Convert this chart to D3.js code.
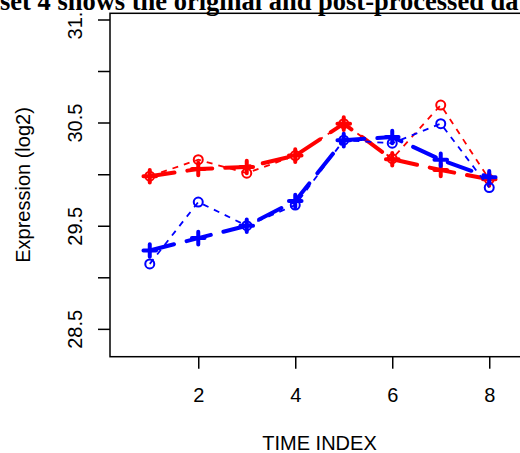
<!DOCTYPE html>
<html>
<head>
<meta charset="utf-8">
<script src="https://cdn.jsdelivr.net/npm/d3@7"></script>
<style>
  html, body { margin: 0; padding: 0; background: #fff; }
  svg { display: block; }
</style>
</head>
<body>
<svg id="chart" width="520" height="453"></svg>
<script>
// ---- data ----
const timeIndex = [1, 2, 3, 4, 5, 6, 7, 8];
const redOriginal  = [29.98, 30.14, 30.01, 30.18, 30.49, 30.15, 30.67, 29.95];
const redProcessed = [29.98, 30.05, 30.07, 30.18, 30.49, 30.145, 30.04, 29.95];
const blueOriginal  = [29.13, 29.73, 29.50, 29.70, 30.33, 30.30, 30.49, 29.87];
const blueProcessed = [29.26, 29.38, 29.50, 29.74, 30.33, 30.36, 30.14, 29.97];
const xTicks = [2, 4, 6, 8];
const yTicks = [28.5, 29, 29.5, 30, 30.5, 31, 31.5];
const yTickLabels = ["28.5", "", "29.5", "", "30.5", "", "31.5"];
const titleText = "Dataset 4 shows the original and post-processed data";
const xTitle = "TIME INDEX";
const yTitle = "Expression (log2)";

// ---- layout ----
const plot = { left: 110, right: 529, top: 13.3, bottom: 356.7 };
const xlim = [0.5, 8.5];
const xpad = 0.04 * (xlim[1] - xlim[0]);
const x = d3.scaleLinear().domain([xlim[0] - xpad, xlim[1] + xpad]).range([plot.left, plot.right]);
const y = d3.scaleLinear().domain([28.23, 31.56]).range([plot.bottom, plot.top]);

const svg = d3.select("#chart");
const axisFont = "'Liberation Sans', Arial, Helvetica, sans-serif";

// clip for the top of the y tick labels
svg.append("defs").append("clipPath").attr("id", "ylabClip")
  .append("rect").attr("x", 0).attr("y", 12.5).attr("width", 110).attr("height", 453);

// ---- series ----
const series = [
  { orig: redOriginal, proc: redProcessed, color: "#ff0000" },
  { orig: blueOriginal, proc: blueProcessed, color: "#0000ff" }
];

const line = d3.line().x(d => x(d[0])).y(d => y(d[1]));
const gData = svg.append("g");

series.forEach(s => {
  const origPts = timeIndex.map((t, i) => [t, s.orig[i]]);
  const procPts = timeIndex.map((t, i) => [t, s.proc[i]]);
  // original: thin dashed + circles
  gData.append("path").attr("d", line(origPts))
    .attr("fill", "none").attr("stroke", s.color).attr("stroke-width", 1.8)
    .attr("stroke-dasharray", "6 6");
  gData.selectAll(null).data(origPts).enter().append("circle")
    .attr("cx", d => x(d[0])).attr("cy", d => y(d[1])).attr("r", 4.5)
    .attr("fill", "none").attr("stroke", s.color).attr("stroke-width", 2);
  // processed: thick long-dashed + plus signs
  gData.append("path").attr("d", line(procPts))
    .attr("fill", "none").attr("stroke", s.color).attr("stroke-width", 4)
    .attr("stroke-linecap", "round").attr("stroke-linejoin", "round")
    .attr("stroke-dasharray", "25 13");
  const h = 6.3;
  gData.selectAll(null).data(procPts).enter().append("path")
    .attr("d", d => {
      const px = x(d[0]), py = y(d[1]);
      return `M${px - h},${py}H${px + h}M${px},${py - h}V${py + h}`;
    })
    .attr("fill", "none").attr("stroke", s.color).attr("stroke-width", 4)
    .attr("stroke-linecap", "round");
});

// ---- box ----
svg.append("rect")
  .attr("x", plot.left).attr("y", plot.top)
  .attr("width", plot.right - plot.left).attr("height", plot.bottom - plot.top)
  .attr("fill", "none").attr("stroke", "#000").attr("stroke-width", 1.5);

// ---- x axis ----
const gx = svg.append("g").attr("transform", `translate(0,${plot.bottom})`)
  .call(d3.axisBottom(x).tickValues(xTicks).tickSize(12).tickPadding(0).tickFormat(d3.format("d")));
gx.select(".domain").remove();
gx.selectAll(".tick line").attr("stroke", "#000").attr("stroke-width", 1.5);
gx.selectAll(".tick text")
  .attr("y", 45.3).attr("dy", null)
  .attr("font-family", axisFont).attr("font-size", 20).attr("fill", "#000");

// ---- y axis ----
const gy = svg.append("g").attr("transform", `translate(${plot.left},0)`)
  .call(d3.axisLeft(y).tickValues(yTicks).tickSize(12)
    .tickFormat((d, i) => yTickLabels[i]));
gy.select(".domain").remove();
gy.selectAll(".tick line").attr("stroke", "#000").attr("stroke-width", 1.5);
gy.selectAll(".tick text")
  .attr("x", 0).attr("y", -28).attr("dy", null)
  .attr("transform", "rotate(-90)")
  .attr("text-anchor", "middle")
  .attr("font-family", axisFont).attr("font-size", 20).attr("fill", "#000");
// clip labels at top (wrap in clipped group)
const gyWrap = svg.append("g").attr("clip-path", "url(#ylabClip)");
gyWrap.node().appendChild(gy.node());

// ---- axis titles ----
svg.append("text")
  .attr("x", (plot.left + plot.right) / 2).attr("y", 450)
  .attr("text-anchor", "middle")
  .attr("font-family", axisFont).attr("font-size", 20).attr("fill", "#000")
  .text(xTitle);

svg.append("text")
  .attr("transform", `translate(30,${(plot.top + plot.bottom) / 2}) rotate(-90)`)
  .attr("text-anchor", "middle")
  .attr("font-family", axisFont).attr("font-size", 20).attr("fill", "#000")
  .text(yTitle);

// ---- title ----
const title = svg.append("text")
  .attr("y", 10)
  .attr("font-family", "'Liberation Serif', 'Times New Roman', serif")
  .attr("font-weight", "bold").attr("font-size", 26.5).attr("fill", "#000");
title.append("tspan").text(titleText);
// measure the prefix so that "set" starts at the left edge of the picture
const probe = svg.append("text")
  .attr("font-family", "'Liberation Serif', 'Times New Roman', serif")
  .attr("font-weight", "bold").attr("font-size", 26.5).text("Data");
const prefixW = probe.node().getComputedTextLength();
probe.remove();
title.attr("x", -prefixW);
</script>
</body>
</html>
